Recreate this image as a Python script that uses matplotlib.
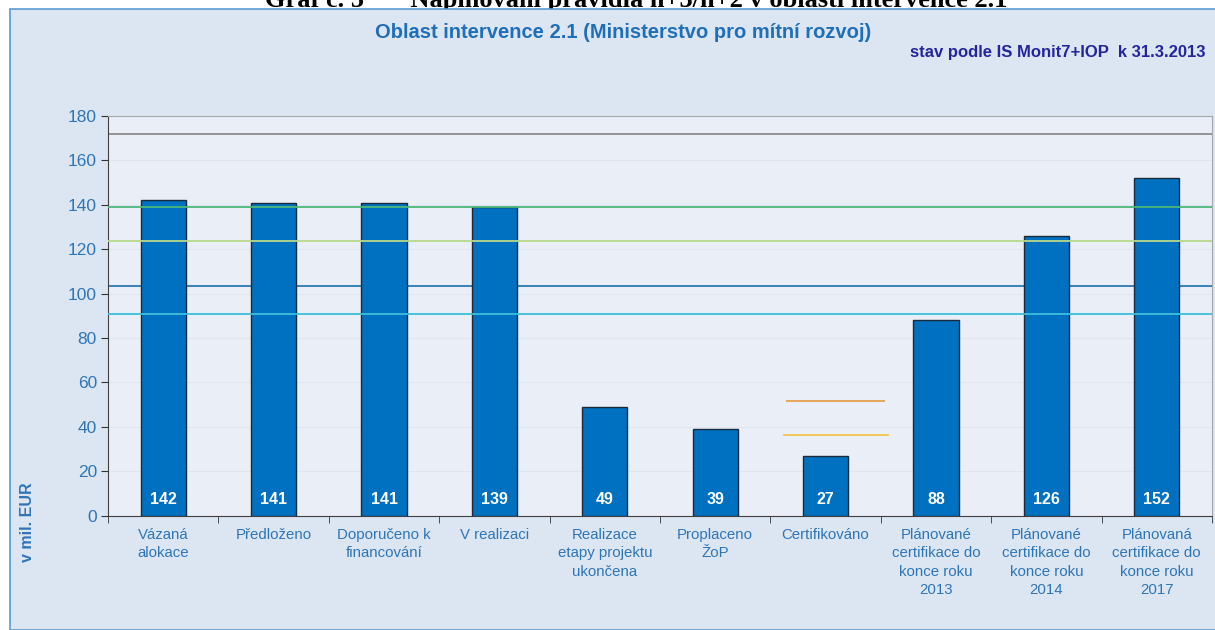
import numpy as np
import matplotlib.pyplot as plt
import matplotlib.patches as patches

# data
kategorie = ["Vázaná\nalokace", "Předloženo", "Doporučeno k\nfinancování", "V realizaci",
             "Realizace\netapy projektu\nukončena", "Proplaceno\nŽoP", "Certifikováno",
             "Plánované\ncertifikace do\nkonce roku\n2013",
             "Plánované\ncertifikace do\nkonce roku\n2014",
             "Plánovaná\ncertifikace do\nkonce roku\n2017"]
hodnoty = [142, 141, 141, 139, 49, 39, 27, 88, 126, 152]

# vodorovne hladiny pres cely graf
hladiny = [171.8, 138.9, 123.6, 103.3, 90.7]
barvy_hladin = ["#8c8c8c", "#4cb87a", "#b9d98a", "#2a7ab0", "#3cc0dc"]
nad_sloupci = [False, True, True, False, True]

# kratke hladiny u sloupce Certifikovano
kratke_hladiny = [51.6, 36.1]
barvy_kratkych = ["#e8a050", "#f2c54a"]

modra = "#2e75b6"
plt.rcParams['font.family'] = ['Liberation Sans', 'DejaVu Sans']

fig = plt.figure(figsize=(12.15, 6.3), dpi=100)
fig.patch.set_facecolor("white")

# useknuty nadpis nad panelem
fig.text(0.524, 1 - 7/630, "Graf č. 5       Naplňování pravidla n+3/n+2 v oblasti intervence 2.1",
         ha="center", va="baseline", fontsize=19, fontweight="bold",
         family=["Liberation Serif", "DejaVu Serif"], color="black", zorder=-20)

# pozadi panelu grafu
panel = patches.Rectangle((10/1215, 0), 1.0, 1 - 9/630, transform=fig.transFigure,
                          facecolor="#dce6f2", edgecolor="#5b9bd5", linewidth=1.2, zorder=-10)
fig.patches.append(panel)

ax = fig.add_axes([108/1215, (630-515.5)/630, (1212-108)/1215, (515.5-116)/630])
ax.set_zorder(2)
ax.set_facecolor("#eaeff7")

x = np.arange(len(hodnoty))
ax.bar(x, hodnoty, width=0.41, color="#0070c0", edgecolor="#1b2a3a", linewidth=1.0, zorder=3)

for h, c, nad in zip(hladiny, barvy_hladin, nad_sloupci):
    ax.axhline(h, color=c, linewidth=1.3, zorder=4 if nad else 2)

ax.hlines(kratke_hladiny[0], 5.64, 6.54, color=barvy_kratkych[0], linewidth=1.3, zorder=4)
ax.hlines(kratke_hladiny[1], 5.61, 6.57, color=barvy_kratkych[1], linewidth=1.3, zorder=4)

for xi, v in zip(x, hodnoty):
    ax.text(xi, 7, str(v), ha="center", va="center", color="white",
            fontsize=11.5, fontweight="bold", zorder=5)

ax.set_xlim(-0.5, len(hodnoty) - 0.5)
ax.set_ylim(0, 180)
ax.set_yticks(np.arange(0, 181, 20))
ax.yaxis.grid(True, color="#dfe4ee", linewidth=0.8, zorder=1)
ax.set_axisbelow(True)

ax.set_xticks(x)
ax.set_xticklabels(kategorie, fontsize=10.8, color=modra, linespacing=1.4)
ax.set_xticks(np.arange(-0.5, len(hodnoty)), minor=True)
ax.tick_params(axis="x", which="major", length=0, pad=9)
ax.tick_params(axis="x", which="minor", length=5, color="#333333", direction="out")
ax.tick_params(axis="y", length=5, color="#333333", labelsize=12.5, labelcolor=modra, pad=3)

for s in ["left", "bottom"]:
    ax.spines[s].set_color("#404040")
for s in ["top", "right"]:
    ax.spines[s].set_color("#a6a6a6")

fig.text(28/1215, 1 - 522/630, "v mil. EUR", rotation=90, ha="center", va="center",
         fontsize=11.5, fontweight="bold", color=modra)

fig.text(623/1215, 1 - 32/630, "Oblast intervence 2.1 (Ministerstvo pro mítní rozvoj)",
         ha="center", va="center", fontsize=14.5, fontweight="bold", color="#1f6fb8")
fig.text(1206/1215, 1 - 53/630, "stav podle IS Monit7+IOP  k 31.3.2013",
         ha="right", va="center", fontsize=12, fontweight="bold", color="#2424a0")

fig.savefig("out.png", dpi=100)
